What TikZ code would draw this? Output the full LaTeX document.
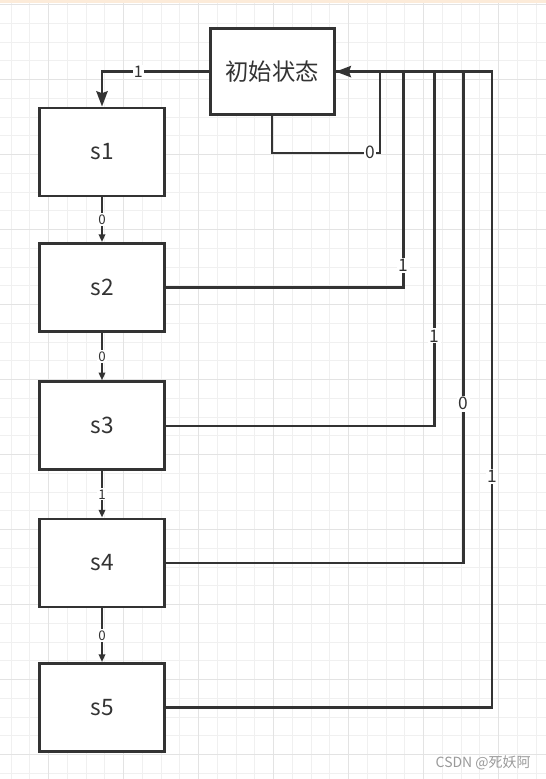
\documentclass[tikz,border=0pt]{standalone}
\usepackage{fontspec}
\newfontfamily\cjk{Noto Sans CJK SC}
\usetikzlibrary{arrows.meta}
\definecolor{ln}{HTML}{333333}
\definecolor{gminor}{HTML}{F0F0F0}
\definecolor{gmajor}{HTML}{E3E3E3}
\definecolor{topstrip}{HTML}{FCEBD9}
\definecolor{wm}{HTML}{9A9A9A}
\begin{document}
\begin{tikzpicture}[x=0.75pt,y=-0.75pt,
  box/.style={draw=ln, line width=2.2pt, fill=white, minimum width=93.75pt,
    minimum height=66pt, inner sep=0pt, text=ln, font=\cjk\fontsize{17}{17}\selectfont},
  conn/.style={draw=ln, line width=1.7pt},
  bigtip/.style={-{Stealth[length=11.5pt,width=8.5pt,inset=1.5pt]}},
  smalltip/.style={-{Triangle[length=5.8pt,width=4.8pt]}},
  lbl/.style={fill=white, inner sep=1pt, text=ln, font=\cjk\fontsize{13}{13}\selectfont},
  slbl/.style={fill=white, inner sep=1pt, text=ln, font=\cjk\fontsize{10}{10}\selectfont},
  tlbl/.style={fill=white, inner sep=1pt, text=ln, font=\cjk\fontsize{12}{12}\selectfont}]
% background and grid
\fill[white] (0,0) rectangle (546,779);
\useasboundingbox (0,0) rectangle (546,779);
\foreach \k in {0,...,28} {
  \pgfmathsetmacro\xx{11+18.75*\k}
  \draw[gminor, line width=0.75pt] (\xx,0) -- (\xx,779);
}
\foreach \k in {0,...,41} {
  \pgfmathsetmacro\yy{4.55+18.75*\k}
  \draw[gminor, line width=0.75pt] (0,\yy) -- (546,\yy);
}
\foreach \k in {2,6,...,26} {
  \pgfmathsetmacro\xx{11+18.75*\k}
  \draw[gmajor, line width=0.75pt] (\xx,0) -- (\xx,779);
}
\foreach \k in {0,4,...,40} {
  \pgfmathsetmacro\yy{4.55+18.75*\k}
  \draw[gmajor, line width=0.75pt] (0,\yy) -- (546,\yy);
}
\fill[topstrip] (0,0) rectangle (546,3);
% nodes
\node[box, minimum width=93pt, minimum height=64pt, font=\cjk\fontsize{17.5}{17.5}\selectfont] (init) at (272.2,71.6) {初始状态};
\node[box] (s1) at (102,152) {s1};
\node[box] (s2) at (102,287.5) {s2};
\node[box] (s3) at (102,425.8) {s3};
\node[box] (s4) at (102,563) {s4};
\node[box] (s5) at (102,707.5) {s5};
% corner coordinates
\coordinate (c0) at (380,152.7);
\coordinate (c2) at (403.5,71.6);
\coordinate (c3) at (434.5,71.6);
\coordinate (c4) at (463.5,71.6);
\coordinate (c5) at (492,71.6);
% left connectors
\draw[conn, bigtip] (init.west) -| node[tlbl, pos=0.33] {1} (s1.north);
\draw[conn, smalltip] (s1.south) -- node[slbl] {0} (s2.north);
\draw[conn, smalltip] (s2.south) -- node[slbl] {0} (s3.north);
\draw[conn, smalltip] (s3.south) -- node[slbl] {1} (s4.north);
\draw[conn, smalltip] (s4.south) -- node[slbl] {0} (s5.north);
% right connectors
\draw[conn] (s2.east) -| node[lbl, pos=0.551] {1} (c2) -- (init.east);
\draw[conn] (s3.east) -| node[lbl, pos=0.627] {1} (c3) -- (init.east);
\draw[conn] (s4.east) -| node[lbl, pos=0.662] {0} (c4) -- (init.east);
\draw[conn] (s5.east) -| node[lbl, pos=0.682] {1} (c5) -- (init.east);
\draw[conn, bigtip] (init.south) |- node[lbl, pos=0.955] {0} (c0) |- (init.east);
% watermark
\node[anchor=east, inner sep=0pt, text=wm, font=\cjk\fontsize{10.5}{10.5}\selectfont] (wmk) at (531,762.5) {CSDN @死妖阿};
\end{tikzpicture}
\end{document}
